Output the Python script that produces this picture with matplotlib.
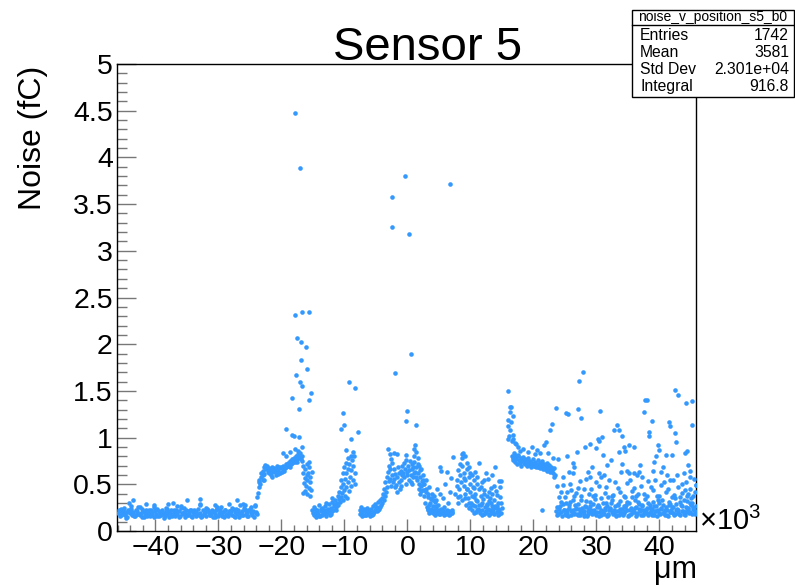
import numpy as np
import matplotlib
matplotlib.use("Agg")
import matplotlib.pyplot as plt
from matplotlib.patches import Rectangle
from matplotlib.lines import Line2D
from matplotlib.ticker import MultipleLocator, FuncFormatter

plt.rcParams['font.family'] = ['Liberation Sans', 'DejaVu Sans']
plt.rcParams['mathtext.fontset'] = 'custom'
plt.rcParams['mathtext.rm'] = 'Liberation Sans'

# position in units of 10^3 um, noise in fC
# flat band on the left
a_x = [-45.9, -45.7, -45.5, -45.3, -45.1, -44.9, -44.7, -44.5, -44.3, -44.1,
       -43.9, -43.7, -43.5, -43.3, -43.1, -42.9, -42.7, -42.5, -42.3, -42.1,
       -41.9, -41.7, -41.5, -41.3, -41.1, -40.9, -40.7, -40.5, -40.3, -40.1,
       -39.9, -39.7, -39.5, -39.3, -39.1, -38.9, -38.7, -38.5, -38.3, -38.1,
       -37.9, -37.7, -37.5, -37.3, -37.1, -36.9, -36.7, -36.5, -36.3, -36.1,
       -35.9, -35.7, -35.5, -35.3, -35.1, -34.9, -34.7, -34.5, -34.3, -34.1,
       -33.9, -33.7, -33.5, -33.3, -33.1, -32.9, -32.7, -32.5, -32.3, -32.1,
       -31.9, -31.7, -31.5, -31.3, -31.1, -30.9, -30.7, -30.5, -30.3, -30.1,
       -29.9, -29.7, -29.5, -29.3, -29.1, -28.9, -28.7, -28.5, -28.3, -28.1,
       -27.9, -27.7, -27.5, -27.3, -27.1, -26.9, -26.7, -26.5, -26.3, -26.1,
       -25.9, -25.7, -25.5, -25.3, -25.1, -24.9, -24.7, -24.5, -24.3, -24.1]
a_y = [0.19, 0.16, 0.21, 0.18, 0.23, 0.17, 0.20, 0.15, 0.22, 0.19,
       0.24, 0.17, 0.20, 0.16, 0.22, 0.18, 0.26, 0.17, 0.19, 0.15,
       0.21, 0.18, 0.23, 0.16, 0.20, 0.17, 0.22, 0.19, 0.15, 0.21,
       0.18, 0.24, 0.16, 0.20, 0.17, 0.22, 0.19, 0.16, 0.21, 0.18,
       0.15, 0.20, 0.23, 0.17, 0.19, 0.16, 0.22, 0.18, 0.21, 0.16,
       0.25, 0.18, 0.20, 0.15, 0.22, 0.17, 0.19, 0.23, 0.16, 0.20,
       0.18, 0.21, 0.16, 0.24, 0.17, 0.19, 0.15, 0.22, 0.18, 0.20,
       0.16, 0.23, 0.19, 0.17, 0.21, 0.15, 0.20, 0.18, 0.24, 0.16,
       0.19, 0.22, 0.17, 0.20, 0.15, 0.23, 0.18, 0.16, 0.21, 0.19,
       0.17, 0.24, 0.16, 0.20, 0.18, 0.22, 0.15, 0.19, 0.21, 0.17,
       0.25, 0.18, 0.20, 0.16, 0.23, 0.19, 0.17, 0.21, 0.15, 0.20]
a2_x = [-45.8, -45.4, -45.0, -44.6, -44.2, -43.8, -43.4, -43.0, -42.6, -42.2,
        -41.8, -41.4, -41.0, -40.6, -40.2, -39.8, -39.4, -39.0, -38.6, -38.2,
        -37.8, -37.4, -37.0, -36.6, -36.2, -35.8, -35.4, -35.0, -34.6, -34.2,
        -33.8, -33.4, -33.0, -32.6, -32.2, -31.8, -31.4, -31.0, -30.6, -30.2,
        -29.8, -29.4, -29.0, -28.6, -28.2, -27.8, -27.4, -27.0, -26.6, -26.2,
        -25.8, -25.4, -25.0, -24.6, -24.2, -23.9]
a2_y = [0.22, 0.17, 0.25, 0.14, 0.20, 0.27, 0.16, 0.21, 0.18, 0.24,
        0.15, 0.19, 0.23, 0.17, 0.26, 0.16, 0.21, 0.18, 0.14, 0.24,
        0.20, 0.16, 0.22, 0.27, 0.15, 0.19, 0.25, 0.17, 0.21, 0.15,
        0.23, 0.18, 0.28, 0.16, 0.20, 0.24, 0.17, 0.22, 0.15, 0.26,
        0.19, 0.16, 0.23, 0.18, 0.21, 0.25, 0.15, 0.20, 0.28, 0.17,
        0.22, 0.16, 0.24, 0.19, 0.27, 0.18]
a_pts = [(-43.6, 0.33), (-44.2, 0.30), (-41.5, 0.29), (-35.0, 0.33), (-32.9, 0.34),
         (-27.0, 0.33), (-28.4, 0.29), (-24.2, 0.28), (-38.0, 0.29), (-30.5, 0.28),
         (-26.1, 0.29), (-40.2, 0.28), (-25.8, 0.28),
         (-45.5, 0.24), (-44.8, 0.18), (-44.0, 0.22), (-43.2, 0.17), (-42.4, 0.26),
         (-41.6, 0.20), (-40.8, 0.16), (-40.0, 0.23), (-39.2, 0.19), (-38.4, 0.25),
         (-37.6, 0.17), (-36.8, 0.21), (-36.0, 0.27), (-35.2, 0.18), (-34.4, 0.23),
         (-33.6, 0.20), (-32.8, 0.16), (-32.0, 0.25), (-31.2, 0.19), (-30.4, 0.22),
         (-29.6, 0.26), (-28.8, 0.17), (-28.0, 0.21), (-27.2, 0.24), (-26.4, 0.18),
         (-25.6, 0.22), (-24.8, 0.26), (-24.0, 0.19), (-37.2, 0.30), (-33.0, 0.29)]

# step, plateau and spike near -18
b_pts = [(-23.8, 0.36), (-23.7, 0.41), (-23.6, 0.47), (-23.6, 0.52), (-23.5, 0.55),
         (-23.4, 0.50), (-23.3, 0.58), (-23.2, 0.62), (-23.0, 0.55),
         (-23.0, 0.64), (-22.8, 0.68), (-22.7, 0.61), (-22.5, 0.66), (-22.3, 0.70),
         (-22.2, 0.63), (-22.0, 0.67), (-21.8, 0.65), (-21.7, 0.62), (-21.5, 0.69),
         (-21.3, 0.64), (-21.2, 0.67), (-21.0, 0.63), (-20.8, 0.66), (-20.7, 0.70),
         (-20.5, 0.64), (-20.3, 0.67), (-20.2, 0.62), (-20.0, 0.68), (-19.8, 0.66),
         (-19.7, 0.70), (-19.5, 0.67), (-19.3, 0.72), (-19.2, 0.69), (-19.0, 0.73),
         (-18.8, 0.70), (-18.7, 0.75), (-18.5, 0.72), (-18.3, 0.77), (-18.2, 0.74),
         (-18.0, 0.78), (-17.8, 0.76), (-17.7, 0.80), (-17.5, 0.77), (-17.3, 0.82),
         (-17.2, 0.79), (-17.0, 0.83), (-16.8, 0.80),
         (-22.9, 0.60), (-22.4, 0.69), (-21.9, 0.62), (-21.4, 0.66), (-20.9, 0.60),
         (-20.4, 0.69), (-19.9, 0.63), (-19.4, 0.68), (-18.9, 0.70), (-18.4, 0.73),
         (-17.9, 0.74), (-17.4, 0.78), (-16.9, 0.77), (-22.6, 0.71), (-21.6, 0.60),
         (-20.6, 0.61), (-19.6, 0.64), (-18.6, 0.68), (-17.6, 0.74),
         (-19.7, 0.83), (-19.2, 0.80), (-18.3, 1.03), (-18.0, 1.02), (-17.2, 1.01),
         (-16.7, 0.90), (-17.8, 0.88), (-18.6, 0.85), (-17.4, 0.86), (-22.7, 0.55),
         (-21.5, 0.58),
         (-16.7, 0.75), (-16.6, 0.62), (-16.5, 0.70), (-16.4, 0.51), (-16.3, 0.57),
         (-16.2, 0.66), (-16.2, 0.43), (-16.1, 0.48), (-16.0, 0.72), (-15.9, 0.55),
         (-15.9, 0.40), (-15.8, 0.62), (-15.7, 0.46), (-15.6, 0.69), (-15.5, 0.52),
         (-15.5, 0.38), (-15.4, 0.58), (-15.3, 0.44), (-15.2, 0.63), (-16.5, 0.41),
         (-16.0, 0.60), (-15.7, 0.74),
         (-17.9, 4.48), (-17.1, 3.89), (-17.9, 2.31), (-16.7, 2.35), (-15.7, 2.35),
         (-17.5, 2.07), (-16.9, 2.02), (-16.1, 1.97), (-16.9, 1.83), (-15.9, 1.73),
         (-17.7, 1.67), (-17.1, 1.59), (-16.8, 1.55), (-15.3, 1.48), (-18.3, 1.42),
         (-15.6, 1.40), (-17.2, 1.31), (-19.2, 1.09)]

# dip and bump around -10
c_pts = [(-15.1, 0.22), (-14.9, 0.17), (-14.8, 0.26), (-14.6, 0.19), (-14.5, 0.15),
         (-14.3, 0.23), (-14.2, 0.18), (-14.0, 0.28), (-13.9, 0.16), (-13.7, 0.21),
         (-13.6, 0.25), (-13.4, 0.18), (-13.3, 0.20), (-13.1, 0.27), (-13.0, 0.16),
         (-12.8, 0.23), (-12.7, 0.19), (-12.5, 0.29), (-12.4, 0.21), (-12.2, 0.25),
         (-12.1, 0.18), (-11.9, 0.31), (-11.8, 0.23), (-11.6, 0.27), (-11.5, 0.33),
         (-11.3, 0.26),
         (-15.0, 0.19), (-14.7, 0.24), (-14.4, 0.20), (-14.1, 0.16), (-13.8, 0.24),
         (-13.5, 0.17), (-13.2, 0.22), (-12.9, 0.19), (-12.6, 0.24), (-12.3, 0.17),
         (-12.0, 0.21), (-11.7, 0.29), (-11.4, 0.22), (-13.0, 0.30), (-12.0, 0.35),
         (-11.2, 0.30), (-11.1, 0.38), (-11.0, 0.28), (-10.9, 0.34), (-10.8, 0.42),
         (-10.7, 0.31), (-10.6, 0.47), (-10.5, 0.36), (-10.5, 0.55), (-10.4, 0.41),
         (-10.3, 0.62), (-10.2, 0.33), (-10.2, 0.50), (-10.1, 0.44), (-10.0, 0.68),
         (-9.9, 0.38), (-9.9, 0.56), (-9.8, 0.73), (-9.7, 0.47), (-9.7, 0.62),
         (-9.6, 0.35), (-9.5, 0.78), (-9.5, 0.52), (-9.4, 0.66), (-9.3, 0.43),
         (-9.2, 0.72), (-9.1, 0.58), (-9.0, 0.80), (-9.0, 0.48), (-8.9, 0.65),
         (-8.8, 0.76), (-8.7, 0.55), (-8.6, 0.70), (-8.5, 0.80), (-8.4, 0.62),
         (-8.4, 0.50),
         (-10.5, 1.09), (-10.2, 1.26), (-10.0, 1.14), (-9.2, 1.60), (-8.4, 1.53),
         (-9.0, 0.98), (-7.8, 1.06), (-9.7, 0.87), (-8.6, 0.85)]

# dip and bump around -4
d_pts = [(-7.6, 0.23), (-7.5, 0.18), (-7.3, 0.26), (-7.2, 0.16), (-7.0, 0.21),
         (-6.9, 0.24), (-6.7, 0.17), (-6.6, 0.20), (-6.4, 0.25), (-6.3, 0.18),
         (-6.1, 0.22), (-6.0, 0.16), (-5.8, 0.24), (-5.7, 0.20), (-5.5, 0.27),
         (-5.4, 0.18), (-5.2, 0.23), (-5.1, 0.29), (-4.9, 0.21), (-4.8, 0.26),
         (-4.6, 0.31), (-4.5, 0.24), (-4.3, 0.33), (-4.2, 0.28),
         (-7.4, 0.19), (-7.1, 0.17), (-6.8, 0.22), (-6.5, 0.17), (-6.2, 0.19),
         (-5.9, 0.21), (-5.6, 0.17), (-5.3, 0.20), (-5.0, 0.25), (-4.7, 0.22),
         (-4.4, 0.26),
         (-4.1, 0.35), (-4.0, 0.30), (-3.9, 0.40), (-3.8, 0.33), (-3.7, 0.45),
         (-3.6, 0.38), (-3.5, 0.52), (-3.4, 0.42), (-3.3, 0.58), (-3.2, 0.47),
         (-3.1, 0.63), (-3.0, 0.53), (-2.9, 0.70), (-2.8, 0.56), (-2.7, 0.66),
         (-2.6, 0.48), (-2.5, 0.60), (-2.4, 0.73), (-2.3, 0.52),
         (-3.1, 0.88), (-2.8, 0.82), (-2.6, 0.77), (-2.2, 0.84),
         (-2.5, 3.58), (-2.4, 3.25), (-2.0, 1.69)]

# region around zero
e_pts = [(-2.2, 0.66), (-2.1, 0.56), (-2.0, 0.47), (-1.9, 0.61), (-1.8, 0.49),
         (-1.7, 0.82), (-1.6, 0.58), (-1.5, 0.68), (-1.4, 0.52), (-1.3, 0.62),
         (-1.2, 0.45), (-1.1, 0.55), (-1.0, 0.64), (-0.9, 0.60), (-0.8, 0.70),
         (-0.7, 0.62), (-0.6, 0.73), (-0.5, 0.58), (-0.4, 0.66), (-0.3, 0.76),
         (-0.2, 0.81), (-0.1, 0.63), (0.0, 0.60), (0.1, 0.70), (0.2, 0.55),
         (0.3, 0.65), (0.5, 0.52), (0.6, 0.60), (0.7, 0.72), (0.8, 0.66),
         (0.9, 0.58), (1.0, 0.74), (1.1, 0.88), (1.2, 0.92), (1.2, 0.63),
         (1.3, 0.85), (1.4, 0.69), (1.5, 0.55), (1.6, 0.78), (1.7, 0.62),
         (1.8, 0.50), (1.9, 0.70), (2.0, 0.58), (2.1, 0.48), (2.2, 0.66),
         (2.3, 0.53), (2.4, 0.44), (2.5, 0.60), (2.6, 0.38), (2.7, 0.50),
         (2.8, 0.30), (2.9, 0.42), (3.0, 0.55), (3.1, 0.26), (3.2, 0.36),
         (3.3, 0.22), (3.4, 0.47), (3.5, 0.28), (3.6, 0.20), (3.7, 0.34),
         (3.8, 0.24), (3.9, 0.40), (4.0, 0.19), (4.1, 0.27), (4.2, 0.22),
         (4.3, 0.31), (4.4, 0.18), (4.5, 0.25), (4.6, 0.21), (4.7, 0.45),
         (4.8, 0.19), (4.9, 0.28), (5.0, 0.22), (5.1, 0.68), (5.2, 0.18),
         (5.3, 0.24), (5.4, 0.64), (5.5, 0.20), (5.6, 0.35), (5.7, 0.19),
         (5.8, 0.26), (5.9, 0.21), (6.0, 0.50), (6.1, 0.18), (6.2, 0.63),
         (6.3, 0.23), (6.4, 0.19), (6.5, 0.30), (6.6, 0.21), (6.7, 0.42),
         (6.8, 0.18), (6.9, 0.57), (7.0, 0.22), (7.1, 0.20), (7.3, 0.79),
         (3.4, 0.19), (3.8, 0.21), (4.3, 0.17), (4.6, 0.27), (5.0, 0.18),
         (5.5, 0.23), (5.8, 0.17), (6.3, 0.20), (6.6, 0.17), (7.0, 0.19),
         (3.2, 0.24), (4.9, 0.20),
         (2.5, 0.50), (3.0, 0.45), (3.3, 0.40), (3.8, 0.35), (4.2, 0.38),
         (2.2, 0.43), (2.0, 0.40), (1.8, 0.45), (4.5, 0.33), (5.2, 0.40),
         (0.8, 0.50), (1.0, 0.62), (1.4, 0.58), (1.7, 0.72), (0.4, 0.75),
         (-0.3, 0.50), (-1.0, 0.48), (-1.6, 0.42), (2.0, 0.65), (2.4, 0.55),
         (2.8, 0.44), (3.6, 0.30), (4.0, 0.33), (1.1, 0.80), (0.9, 0.68),
         (0.0, 1.28), (-0.2, 1.18), (0.5, 1.89), (1.3, 1.14), (-0.4, 3.80),
         (0.3, 3.18), (6.7, 3.72)]

# triangle cluster around 10
f_pts = [(7.6, 0.40), (7.8, 0.55), (8.0, 0.30), (8.0, 0.65), (7.9, 0.48),
         (8.2, 0.45), (8.3, 0.60), (8.4, 0.38), (8.5, 0.52), (8.6, 0.70),
         (8.7, 0.33), (8.8, 0.83), (8.9, 0.48), (9.0, 0.62), (9.1, 0.80),
         (9.1, 0.40), (9.2, 0.55), (9.3, 0.28), (9.4, 0.73), (9.4, 0.45),
         (9.5, 0.66), (9.6, 0.35), (9.7, 0.58), (9.8, 0.68), (9.8, 0.25),
         (9.9, 0.50), (10.0, 0.42), (10.1, 0.30), (10.2, 0.60), (10.3, 0.22),
         (10.4, 0.47), (10.5, 0.36), (10.6, 0.55), (10.7, 0.27), (10.8, 0.40),
         (10.9, 0.20), (11.0, 0.50), (11.1, 0.32), (11.2, 0.24), (11.3, 0.45),
         (11.4, 0.73), (11.5, 0.19), (11.6, 0.38), (11.7, 0.28), (11.8, 0.52),
         (11.9, 0.22), (12.0, 0.34), (12.1, 0.18), (12.2, 0.44), (12.3, 0.26),
         (12.4, 0.62), (12.5, 0.20), (12.6, 0.37), (12.7, 0.29), (12.8, 0.56),
         (12.9, 0.17), (13.0, 0.32), (13.1, 0.23), (13.2, 0.46), (13.3, 0.19),
         (13.4, 0.27), (13.5, 0.40), (13.6, 0.21), (13.7, 0.33), (13.8, 0.18),
         (13.9, 0.68), (14.0, 0.25), (14.1, 0.43), (14.2, 0.20), (14.3, 0.30),
         (14.4, 0.17), (14.5, 0.54), (14.6, 0.22), (14.7, 0.36), (14.8, 0.19),
         (14.9, 0.54), (15.0, 0.25),
         (10.5, 0.19), (11.0, 0.23), (11.8, 0.17), (12.4, 0.21), (13.0, 0.18),
         (13.6, 0.25), (14.2, 0.27), (14.6, 0.18), (12.8, 0.24), (11.4, 0.28),
         (10.0, 0.26), (13.3, 0.30), (8.6, 0.78), (8.7, 0.82),
         (8.1, 0.36), (8.4, 0.72), (8.9, 0.57), (9.2, 0.35), (9.5, 0.45),
         (9.7, 0.30), (9.9, 0.62), (10.2, 0.38), (10.4, 0.28), (10.6, 0.46),
         (10.9, 0.33), (11.1, 0.58), (11.3, 0.22), (11.6, 0.47), (11.9, 0.30),
         (12.1, 0.40), (12.3, 0.19), (12.6, 0.28), (12.9, 0.42), (13.1, 0.35),
         (13.4, 0.21), (13.7, 0.48), (13.9, 0.27), (14.2, 0.39), (14.4, 0.24),
         (14.7, 0.47), (14.9, 0.30), (10.8, 0.63), (12.2, 0.55), (13.5, 0.60)]

# spike at 16 and sloping band up to 23
g_x = [16.6, 16.8, 16.9, 17.1, 17.2, 17.4, 17.5, 17.7, 17.8, 18.0,
       18.1, 18.3, 18.4, 18.6, 18.7, 18.9, 19.0, 19.2, 19.3, 19.5,
       19.6, 19.8, 19.9, 20.1, 20.2, 20.4, 20.5, 20.7, 20.8, 21.0,
       21.1, 21.3, 21.4, 21.6, 21.7, 21.9, 22.0, 22.2, 22.3, 22.5,
       22.6, 22.8, 22.9, 23.1, 23.2, 23.4]
g_y = [0.80, 0.76, 0.83, 0.74, 0.79, 0.72, 0.81, 0.76, 0.73, 0.78,
       0.70, 0.75, 0.79, 0.72, 0.77, 0.70, 0.74, 0.78, 0.71, 0.75,
       0.69, 0.73, 0.77, 0.70, 0.74, 0.68, 0.72, 0.76, 0.69, 0.73,
       0.67, 0.71, 0.75, 0.68, 0.72, 0.66, 0.70, 0.73, 0.67, 0.71,
       0.64, 0.69, 0.66, 0.62, 0.67, 0.60]
g2_x = [16.7, 17.0, 17.3, 17.6, 17.9, 18.2, 18.5, 18.8, 19.1, 19.4,
        19.7, 20.0, 20.3, 20.6, 20.9, 21.2, 21.5, 21.8, 22.1, 22.4,
        22.7, 23.0, 23.3]
g2_y = [0.78, 0.81, 0.77, 0.80, 0.75, 0.77, 0.73, 0.76, 0.72, 0.74,
        0.71, 0.72, 0.70, 0.71, 0.68, 0.70, 0.66, 0.69, 0.64, 0.68,
        0.63, 0.65, 0.58]
g_pts = [(15.9, 1.50), (16.2, 1.33), (16.5, 1.33), (16.3, 1.27), (16.0, 1.19),
         (16.7, 1.23), (16.2, 1.08), (16.7, 1.03), (16.0, 0.98), (17.0, 0.94),
         (15.9, 1.12), (16.4, 1.17), (16.1, 1.02), (16.6, 0.96), (16.8, 0.99),
         (17.3, 0.93), (17.6, 0.90),
         (19.8, 0.90), (21.6, 0.92), (22.0, 0.95), (22.3, 0.83), (22.6, 1.08),
         (22.9, 1.15), (23.5, 1.32), (18.4, 0.88), (19.2, 0.85), (20.5, 0.87),
         (21.0, 0.84), (17.9, 0.86), (20.2, 0.82), (23.1, 0.78), (21.4, 0.22)]

# noisy right side
h_x = [23.6, 23.9, 24.2, 24.5, 24.8, 25.1, 25.4, 25.7, 26.0, 26.3,
       26.6, 26.9, 27.2, 27.5, 27.8, 28.1, 28.4, 28.7, 29.0, 29.3,
       29.6, 29.9, 30.2, 30.5, 30.8, 31.1, 31.4, 31.7, 32.0, 32.3,
       32.6, 32.9, 33.2, 33.5, 33.8, 34.1, 34.4, 34.7, 35.0, 35.3,
       35.6, 35.9, 36.2, 36.5, 36.8, 37.1, 37.4, 37.7, 38.0, 38.3,
       38.6, 38.9, 39.2, 39.5, 39.8, 40.1, 40.4, 40.7, 41.0, 41.3,
       41.6, 41.9, 42.2, 42.5, 42.8, 43.1, 43.4, 43.7, 44.0, 44.3,
       44.6, 44.9, 45.2, 45.5, 45.8]
h_y = [0.21, 0.18, 0.27, 0.16, 0.23, 0.30, 0.19, 0.25, 0.17, 0.22,
       0.28, 0.18, 0.24, 0.33, 0.20, 0.16, 0.26, 0.21, 0.31, 0.18,
       0.23, 0.17, 0.28, 0.20, 0.35, 0.19, 0.25, 0.16, 0.22, 0.30,
       0.18, 0.27, 0.21, 0.17, 0.32, 0.24, 0.19, 0.28, 0.16, 0.23,
       0.36, 0.20, 0.26, 0.18, 0.29, 0.22, 0.17, 0.34, 0.25, 0.19,
       0.21, 0.31, 0.17, 0.27, 0.23, 0.18, 0.33, 0.20, 0.26, 0.16,
       0.29, 0.22, 0.19, 0.35, 0.24, 0.18, 0.28, 0.21, 0.17, 0.32,
       0.25, 0.20, 0.30, 0.22, 0.27]
h2_x = [23.75, 24.05, 24.35, 24.65, 24.95, 25.25, 25.55, 25.85, 26.15, 26.45,
        26.75, 27.05, 27.35, 27.65, 27.95, 28.25, 28.55, 28.85, 29.15, 29.45,
        29.75, 30.05, 30.35, 30.65, 30.95, 31.25, 31.55, 31.85, 32.15, 32.45,
        32.75, 33.05, 33.35, 33.65, 33.95, 34.25, 34.55, 34.85, 35.15, 35.45,
        35.75, 36.05, 36.35, 36.65, 36.95, 37.25, 37.55, 37.85, 38.15, 38.45,
        38.75, 39.05, 39.35, 39.65, 39.95, 40.25, 40.55, 40.85, 41.15, 41.45,
        41.75, 42.05, 42.35, 42.65, 42.95, 43.25, 43.55, 43.85, 44.15, 44.45,
        44.75, 45.05, 45.35, 45.65]
h2_y = [0.17, 0.24, 0.20, 0.29, 0.18, 0.22, 0.16, 0.31, 0.21, 0.19,
        0.25, 0.17, 0.20, 0.23, 0.18, 0.27, 0.16, 0.24, 0.20, 0.29,
        0.19, 0.26, 0.16, 0.23, 0.21, 0.18, 0.30, 0.17, 0.25, 0.20,
        0.23, 0.16, 0.28, 0.21, 0.19, 0.17, 0.26, 0.22, 0.30, 0.18,
        0.20, 0.25, 0.16, 0.31, 0.21, 0.27, 0.19, 0.22, 0.17, 0.28,
        0.24, 0.18, 0.21, 0.16, 0.30, 0.25, 0.19, 0.23, 0.17, 0.28,
        0.20, 0.26, 0.17, 0.22, 0.19, 0.31, 0.21, 0.18, 0.26, 0.23,
        0.19, 0.28, 0.24, 0.18]
h3_pts = [(23.7, 0.26), (24.1, 0.19), (24.4, 0.31), (24.9, 0.22), (25.2, 0.17),
          (25.6, 0.28), (25.9, 0.21), (26.2, 0.33), (26.5, 0.18), (26.8, 0.24),
          (27.1, 0.29), (27.4, 0.17), (27.7, 0.25), (28.0, 0.21), (28.3, 0.32),
          (28.6, 0.18), (28.9, 0.27), (29.2, 0.23), (29.5, 0.19), (29.8, 0.34),
          (30.1, 0.20), (30.4, 0.26), (30.7, 0.17), (31.0, 0.30), (31.3, 0.22),
          (31.6, 0.27), (31.9, 0.18), (32.2, 0.24), (32.5, 0.33), (32.8, 0.20),
          (33.1, 0.17), (33.4, 0.29), (33.7, 0.24), (34.0, 0.19), (34.3, 0.27),
          (34.6, 0.21), (34.9, 0.31), (35.2, 0.17), (35.5, 0.25), (35.8, 0.22),
          (36.1, 0.33), (36.4, 0.19), (36.7, 0.24), (37.0, 0.17), (37.3, 0.28),
          (37.6, 0.22), (37.9, 0.19), (38.2, 0.30), (38.5, 0.25), (38.8, 0.17),
          (39.1, 0.27), (39.4, 0.21), (39.7, 0.33), (40.0, 0.19), (40.3, 0.24),
          (40.6, 0.28), (40.9, 0.17), (41.2, 0.23), (41.5, 0.31), (41.8, 0.20),
          (42.1, 0.26), (42.4, 0.18), (42.7, 0.29), (43.0, 0.22), (43.3, 0.17),
          (43.6, 0.27), (43.9, 0.33), (44.2, 0.20), (44.5, 0.24), (44.8, 0.30),
          (45.1, 0.18), (45.4, 0.26), (45.7, 0.21)]
h_pts = [(23.8, 0.48), (24.0, 0.36), (24.7, 0.58), (24.7, 0.49), (25.3, 0.42),
         (26.5, 0.38), (27.4, 0.53), (28.0, 0.45), (28.8, 0.40), (29.5, 0.37),
         (30.4, 0.48), (31.3, 0.41), (32.0, 0.55), (32.7, 0.39), (33.4, 0.46),
         (34.3, 0.37), (34.9, 0.51), (35.6, 0.43), (36.3, 0.38), (37.0, 0.48),
         (37.5, 0.40), (38.2, 0.53), (38.9, 0.44), (39.6, 0.37), (40.3, 0.49),
         (41.0, 0.42), (41.7, 0.55), (42.3, 0.39), (43.0, 0.47), (43.6, 0.41),
         (44.2, 0.52), (44.8, 0.45), (45.3, 0.38), (45.8, 0.49), (45.5, 0.56),
         (44.5, 0.40), (43.3, 0.36), (26.0, 0.44), (29.9, 0.52), (31.8, 0.36),
         (24.3, 0.42), (25.0, 0.36), (25.8, 0.50), (26.7, 0.41), (27.6, 0.37),
         (28.4, 0.56), (29.1, 0.45), (29.7, 0.39), (30.8, 0.58), (31.5, 0.47),
         (32.4, 0.38), (33.0, 0.52), (33.8, 0.42), (34.6, 0.36), (35.4, 0.55),
         (36.0, 0.46), (36.6, 0.40), (37.3, 0.58), (38.0, 0.37), (38.6, 0.47),
         (39.3, 0.55), (40.0, 0.38), (40.8, 0.52), (41.4, 0.45), (42.0, 0.36),
         (42.8, 0.60), (43.5, 0.50), (44.0, 0.44), (44.9, 0.58), (45.6, 0.42),
         (43.9, 0.62), (41.2, 0.60), (39.0, 0.64), (36.4, 0.60), (34.8, 0.64),
         (31.2, 0.60), (28.9, 0.58), (27.0, 0.46), (45.0, 0.35), (44.4, 0.37),
         (23.9, 0.77), (25.1, 1.26), (25.5, 1.25), (25.4, 0.80), (25.7, 0.63),
         (26.2, 0.62), (26.3, 0.73), (26.5, 0.69), (26.9, 0.85), (27.0, 1.31),
         (27.2, 1.61), (27.6, 1.21), (27.9, 1.70), (28.2, 0.90), (28.7, 0.63),
         (29.0, 0.93), (29.3, 0.69), (30.0, 0.89), (30.2, 0.98), (30.5, 1.28),
         (30.4, 0.96), (30.9, 1.01), (31.0, 0.81), (30.4, 0.62), (31.7, 0.71),
         (32.3, 0.76), (32.8, 1.08), (33.2, 1.13), (33.6, 1.08), (34.1, 1.02),
         (34.3, 0.90), (33.5, 0.85), (34.0, 0.72), (33.9, 0.63), (34.5, 0.86),
         (35.1, 0.92), (35.2, 0.62), (35.9, 0.90), (36.0, 0.62), (36.9, 0.71),
         (36.8, 0.63), (37.6, 1.27), (37.7, 1.40), (38.1, 1.40), (38.3, 1.06),
         (38.4, 1.02), (38.8, 1.18), (39.1, 0.74), (39.4, 0.80), (39.7, 0.92),
         (40.0, 0.87), (40.3, 0.63), (40.6, 0.68), (41.0, 0.81), (41.5, 1.17),
         (41.7, 1.12), (42.0, 0.81), (42.1, 0.55), (42.5, 1.51), (42.9, 1.46),
         (42.5, 1.05), (42.7, 0.95), (44.1, 0.84), (44.3, 0.86), (44.2, 1.37),
         (45.1, 1.13), (45.2, 1.39), (44.6, 0.71), (44.8, 0.64), (45.8, 0.49)]

stat_title = "noise_v_position_s5_b0"
stat_rows = [("Entries", "1742"), ("Mean", "3581"),
             ("Std Dev", "2.301e+04"), ("Integral", "916.8")]

pts = a_pts + b_pts + c_pts + d_pts + e_pts + f_pts + g_pts + h3_pts + h_pts
px = np.concatenate([a_x, a2_x, g_x, g2_x, h_x, h2_x, [p[0] for p in pts]])
py = np.concatenate([a_y, a2_y, g_y, g2_y, h_y, h2_y, [p[1] for p in pts]])

W, H = 795, 586
fig = plt.figure(figsize=(W / 100, H / 100), dpi=100)
ax = fig.add_axes([117 / W, 1 - 531 / H, (696 - 117) / W, (531 - 64) / H])

ax.plot(px, py, 'o', ms=3.3, color='#3399ff', mec='none', zorder=3)

ax.set_xlim(-46.1, 45.8)
ax.set_ylim(0, 5)
ax.xaxis.set_major_locator(MultipleLocator(10))
ax.xaxis.set_minor_locator(MultipleLocator(2))
ax.yaxis.set_major_locator(MultipleLocator(0.5))
ax.yaxis.set_minor_locator(MultipleLocator(0.1))
ax.yaxis.set_major_formatter(FuncFormatter(lambda v, p: f"{v:g}"))
ax.xaxis.set_major_formatter(FuncFormatter(lambda v, p: f"{v:g}".replace('-', '\u2212')))
ax.tick_params(axis='both', which='both', direction='in', color='#777777', width=1,
               top=False, right=False, labelsize=20.5)
ax.tick_params(axis='y', which='major', length=14, pad=3)
ax.tick_params(axis='y', which='minor', length=7)
ax.tick_params(axis='x', which='major', length=8.5, pad=3)
ax.tick_params(axis='x', which='minor', length=4.5)
for s in ax.spines.values():
    s.set_linewidth(1)
    s.set_color('black')

fig.text(428 / W, 1 - 60 / H, "Sensor 5", ha='center', va='baseline', fontsize=34)
fig.text(33 / W, 1 - 66 / H, "Noise (fC)", rotation=90, ha='center', va='top', fontsize=23)
fig.text(697 / W, 1 - 578 / H, "\u03bcm", ha='right', va='baseline', fontsize=22)
fig.text(699 / W, 1 - 530 / H, r"$\times10^{3}$", ha='left', va='baseline', fontsize=21)

# stats box
bx0, by0, bx1, by1 = 632, 10, 794, 97
fig.add_artist(Rectangle((bx0 / W, 1 - by1 / H), (bx1 - bx0) / W, (by1 - by0) / H,
                         transform=fig.transFigure, facecolor='white',
                         edgecolor='black', lw=1, zorder=10))
fig.add_artist(Line2D([bx0 / W, bx1 / W], [1 - 24.5 / H, 1 - 24.5 / H],
                      transform=fig.transFigure, color='black', lw=1, zorder=11))
fig.text((bx0 + bx1) / 2 / W, 1 - 17.5 / H, stat_title, ha='center',
         va='center', fontsize=10, zorder=12)
for i, (k, v) in enumerate(stat_rows):
    yy = 1 - (35 + i * 17.3) / H
    fig.text(640 / W, yy, k, ha='left', va='center', fontsize=11.3, zorder=12)
    fig.text(789 / W, yy, v, ha='right', va='center', fontsize=11.3, zorder=12)

fig.savefig("out.png", dpi=100)
